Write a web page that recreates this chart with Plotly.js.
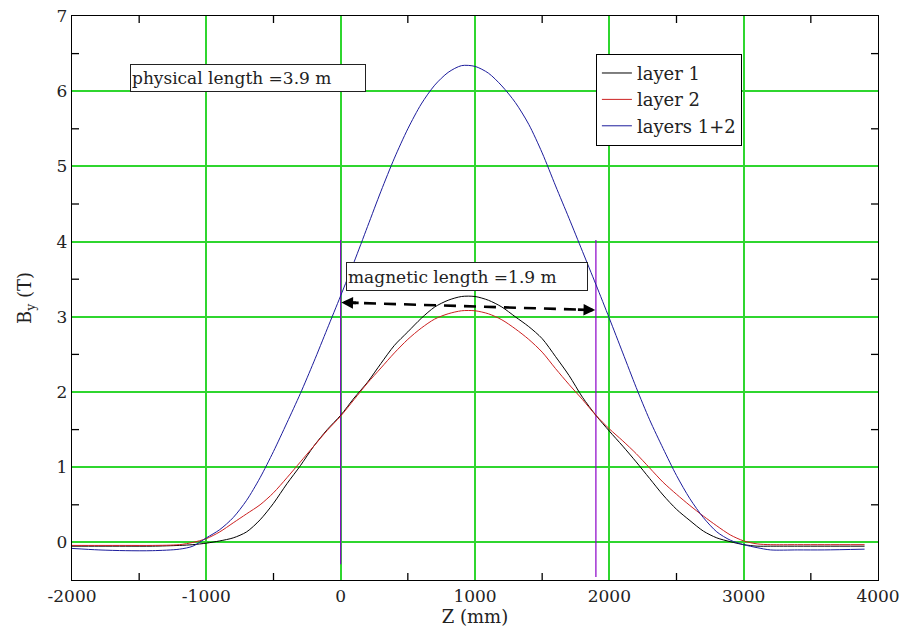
<!DOCTYPE html>
<html>
<head>
<meta charset="utf-8">
<script src="https://cdn.plot.ly/plotly-3.0.1.min.js"></script>
<style>html,body{margin:0;padding:0;background:#fff;}#chart{width:904px;height:631px;}</style>
</head>
<body>
<div id="chart"></div>
<script>
// Z positions (mm)
const zValues = [-2000,-1800,-1600,-1400,-1200,-1100,-1000,-900,-800,-700,-600,-500,-400,-300,-200,-100,
  0,100,200,300,400,500,600,700,800,900,1000,1100,1200,1300,1400,1500,1600,1700,1800,1900,
  2000,2100,2200,2300,2400,2500,2600,2700,2800,2900,3000,3100,3200,3400,3600,3900];

// layer 1 (black)
const layer1 = [-0.05,-0.05,-0.05,-0.05,-0.04,-0.03,-0.01,0.02,0.06,0.14,0.30,0.52,0.78,1.02,1.28,1.50,
  1.69,1.92,2.13,2.38,2.62,2.80,2.98,3.13,3.22,3.27,3.27,3.22,3.13,3.00,2.87,2.71,2.47,2.22,1.93,1.69,
  1.48,1.28,1.07,0.85,0.63,0.44,0.29,0.15,0.06,0.01,-0.03,-0.05,-0.05,-0.05,-0.05,-0.05];

// layer 2 (red)
const layer2 = [-0.04,-0.04,-0.04,-0.04,-0.03,0.00,0.05,0.14,0.26,0.38,0.50,0.66,0.86,1.07,1.28,1.49,
  1.68,1.90,2.12,2.32,2.52,2.70,2.85,2.97,3.04,3.08,3.08,3.04,2.96,2.84,2.70,2.53,2.31,2.10,1.90,1.69,
  1.51,1.35,1.18,0.99,0.80,0.64,0.49,0.35,0.22,0.10,0.02,-0.02,-0.03,-0.03,-0.03,-0.03];

// layers 1+2 (blue)
const layers12 = [-0.08,-0.10,-0.11,-0.11,-0.09,-0.05,0.06,0.17,0.33,0.56,0.86,1.21,1.59,1.98,2.40,2.84,
  3.28,3.73,4.20,4.67,5.11,5.50,5.83,6.08,6.25,6.34,6.33,6.24,6.07,5.85,5.56,5.18,4.74,4.31,3.87,3.43,
  2.98,2.52,2.06,1.63,1.25,0.89,0.58,0.33,0.14,0.03,-0.03,-0.07,-0.10,-0.10,-0.10,-0.09];

// magnetic length markers
const magStartX = [0, 0];
const magStartY = [4.02, -0.29];
const magEndX = [1900, 1900];
const magEndY = [4.02, -0.46];
const arrowX = [25, 1875];
const arrowY = [3.19, 3.09];

const xRange = [-2000, 4000];
const yRange = [-0.5, 7];
const xTickVals = [-2000,-1000,0,1000,2000,3000,4000];
const xTickText = ["-2000","-1000","0","1000","2000","3000","4000"];
const xMinorVals = [-1500,-500,500,1500,2500,3500];
const yTickVals = [0,1,2,3,4,5,6,7];
const yTickText = ["0","1","2","3","4","5","6","7"];
const yMinorVals = [0.5,1.5,2.5,3.5,4.5,5.5,6.5];

const serif = "DejaVu Serif";
const grid = '#2fd62f';

const traces = [
  {x: magStartX, y: magStartY, mode:'lines', line:{color:'#8a00c8', width:1.2}, showlegend:false, hoverinfo:'skip'},
  {x: magEndX, y: magEndY, mode:'lines', line:{color:'#8a00c8', width:1.2}, showlegend:false, hoverinfo:'skip'},
  {x: zValues, y: layer1, mode:'lines', name:'layer 1', line:{color:'#000000', width:1, shape:'spline', smoothing:0.8}},
  {x: zValues, y: layer2, mode:'lines', name:'layer 2', line:{color:'#cc2020', width:1, shape:'spline', smoothing:0.8}},
  {x: zValues, y: layers12, mode:'lines', name:'layers 1+2', line:{color:'#1c1c9c', width:1, shape:'spline', smoothing:0.8}},
  {x: arrowX, y: arrowY, mode:'lines', line:{color:'#000000', width:2.6, dash:'12px,8px'}, showlegend:false, hoverinfo:'skip'}
];

const axisCommon = {
  showline:true, linecolor:'#000', linewidth:1.3, mirror:true,
  showgrid:true, gridcolor:grid, gridwidth:2,
  zeroline:false, ticks:'', tickmode:'array',
  tickfont:{family:serif, size:17, color:'#222'},
};

// minor tick marks on all four sides, built from the minor tick value arrays
const tickShapes = [];
const tickStyle = {color:'#000', width:1.3};
xMinorVals.forEach(v => {
  tickShapes.push({type:'line', xref:'x', yref:'paper', ysizemode:'pixel', yanchor:0, x0:v, x1:v, y0:0, y1:7, line:tickStyle});
  tickShapes.push({type:'line', xref:'x', yref:'paper', ysizemode:'pixel', yanchor:1, x0:v, x1:v, y0:0, y1:-7, line:tickStyle});
});
yMinorVals.forEach(v => {
  tickShapes.push({type:'line', yref:'y', xref:'paper', xsizemode:'pixel', xanchor:0, y0:v, y1:v, x0:0, x1:7, line:tickStyle});
  tickShapes.push({type:'line', yref:'y', xref:'paper', xsizemode:'pixel', xanchor:1, y0:v, y1:v, x0:0, x1:-7, line:tickStyle});
});

const layout = {
  width:904, height:631,
  margin:{l:72, r:26, t:16, b:51},
  paper_bgcolor:'#fff', plot_bgcolor:'#fff',
  font:{family:serif},
  showlegend:true,
  legend:{x:0.650, y:0.933, xanchor:'left', yanchor:'top', bordercolor:'#000', borderwidth:1,
    bgcolor:'#fff', font:{family:serif, size:18, color:'#222'}, tracegroupgap:0},
  xaxis:Object.assign({}, axisCommon, {
    range:xRange, tickvals:xTickVals, ticktext:xTickText,
    title:{text:'Z (mm)', font:{family:serif, size:18, color:'#222'}, standoff:2}
  }),
  yaxis:Object.assign({}, axisCommon, {
    range:yRange, tickvals:yTickVals, ticktext:yTickText,
    title:{text:'B<sub>y</sub> (T)', font:{family:serif, size:18, color:'#222'}, standoff:20}
  }),
  shapes:tickShapes,
  annotations:[
    {x:-692, y:6.18, xref:'x', yref:'y', text:'physical length =3.9 m', showarrow:false,
     font:{family:serif, size:17, color:'#222'}, bgcolor:'#fff', bordercolor:'#222', borderwidth:1,
     width:232, height:24, align:'left', borderpad:1},
    {x:938, y:3.54, xref:'x', yref:'y', text:'magnetic length =1.9 m', showarrow:false,
     font:{family:serif, size:17, color:'#222'}, bgcolor:'#fff', bordercolor:'#222', borderwidth:1,
     width:238, height:25, align:'left', borderpad:1},
    {x:arrowX[0]-20, y:arrowY[0], ax:arrowX[0]+120, ay:arrowY[0]-0.006, xref:'x', yref:'y', axref:'x', ayref:'y',
     text:'', showarrow:true, arrowhead:2, arrowsize:0.9, arrowwidth:2.6, arrowcolor:'#000', standoff:0},
    {x:arrowX[1]+20, y:arrowY[1], ax:arrowX[1]-120, ay:arrowY[1]+0.006, xref:'x', yref:'y', axref:'x', ayref:'y',
     text:'', showarrow:true, arrowhead:2, arrowsize:0.9, arrowwidth:2.6, arrowcolor:'#000', standoff:0}
  ]
};

Plotly.newPlot('chart', traces, layout, {displayModeBar:false, staticPlot:true});
</script>
</body>
</html>
